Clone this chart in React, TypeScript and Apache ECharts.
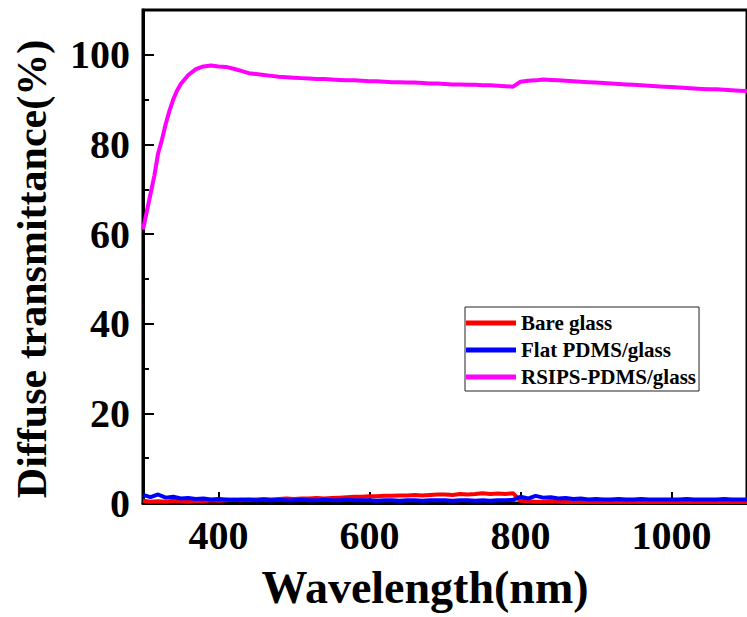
import React, { useEffect, useRef } from "react";
import * as echarts from "echarts";

const seriesNames = ["Bare glass", "Flat PDMS/glass", "RSIPS-PDMS/glass"];
const seriesColors = ["#ff0000", "#0000ff", "#ff00ff"];

const xTickValues = [400, 600, 800, 1000];
const yTickValues = [0, 20, 40, 60, 80, 100];
const yMinorTickValues = [10, 30, 50, 70, 90];

const wavelengths = [
  300, 310, 320, 330, 340, 350, 360, 370, 380, 390,
  400, 410, 420, 430, 440, 450, 460, 470, 480, 490,
  500, 510, 520, 530, 540, 550, 560, 570, 580, 590,
  600, 610, 620, 630, 640, 650, 660, 670, 680, 690,
  700, 710, 720, 730, 740, 750, 760, 770, 780, 790,
  800, 810, 820, 830, 840, 850, 860, 870, 880, 890,
  900, 910, 920, 930, 940, 950, 960, 970, 980, 990,
  1000, 1010, 1020, 1030, 1040, 1050, 1060, 1070, 1080, 1090,
  1100,
];

const bareGlass = [
  0.5, 0.3, 0.4, 0.3, 0.5, 0.4, 0.3, 0.5, 0.4, 0.6,
  0.5, 0.6, 0.7, 0.6, 0.8, 0.8, 0.9, 0.8, 0.9, 1.0,
  0.9, 1.0, 1.0, 1.1, 1.0, 1.1, 1.2, 1.3, 1.4, 1.4,
  1.5, 1.5, 1.6, 1.6, 1.7, 1.7, 1.8, 1.7, 1.8, 1.9,
  1.9, 1.8, 2.0, 1.9, 2.0, 2.2, 2.0, 2.1, 2.0, 2.2,
  0.5, 0.4, 0.3, 0.3, 0.4, 0.3, 0.2, 0.3, 0.2, 0.3,
  0.2, 0.3, 0.2, 0.2, 0.3, 0.2, 0.2, 0.3, 0.2, 0.2,
  0.2, 0.3, 0.2, 0.2, 0.2, 0.3, 0.2, 0.2, 0.3, 0.2,
  0.2,
];

const flatPdms = [
  1.8, 1.3, 1.9, 1.2, 1.4, 1.0, 1.1, 0.9, 1.0, 0.8,
  0.9, 0.8, 0.7, 0.8, 0.7, 0.6, 0.7, 0.6, 0.7, 0.6,
  0.6, 0.7, 0.6, 0.6, 0.7, 0.6, 0.6, 0.7, 0.6, 0.6,
  0.6, 0.5, 0.6, 0.6, 0.5, 0.6, 0.6, 0.5, 0.6, 0.6,
  0.6, 0.5, 0.6, 0.6, 0.5, 0.6, 0.5, 0.6, 0.6, 0.7,
  1.4, 1.0, 1.6, 1.2, 1.3, 1.0, 1.1, 0.9, 1.0, 0.8,
  0.9, 0.8, 0.8, 0.9, 0.8, 0.8, 0.9, 0.8, 0.8, 0.8,
  0.8, 0.8, 0.9, 0.8, 0.8, 0.8, 0.8, 0.9, 0.8, 0.8,
  0.8,
];

const rsipsWavelengths = [
  300, 305, 310, 315, 320, 325, 330, 335, 340, 345, 350, 360, 370, 380, 390,
  400, 410, 420, 430, 440, 450, 460, 470, 480, 490,
  500, 510, 520, 530, 540, 550, 560, 570, 580, 590,
  600, 610, 620, 630, 640, 650, 660, 670, 680, 690,
  700, 710, 720, 730, 740, 750, 760, 770, 780, 790,
  800, 810, 820, 830, 840, 850, 860, 870, 880, 890,
  900, 910, 920, 930, 940, 950, 960, 970, 980, 990,
  1000, 1010, 1020, 1030, 1040, 1050, 1060, 1070, 1080, 1090,
  1100,
];

const rsipsPdms = [
  61, 65, 69, 73, 78, 81, 84.5, 87.5, 90, 92, 93.5, 95.5, 96.8, 97.4, 97.6,
  97.4, 97.3, 96.9, 96.4, 95.9, 95.7, 95.5, 95.3, 95.1, 95.0,
  94.9, 94.8, 94.7, 94.6, 94.6, 94.5, 94.4, 94.3, 94.3, 94.2,
  94.1, 94.1, 94.0, 93.9, 93.9, 93.8, 93.8, 93.7, 93.6, 93.6,
  93.5, 93.4, 93.4, 93.3, 93.3, 93.2, 93.2, 93.1, 93.0, 92.9,
  94.0, 94.2, 94.3, 94.5, 94.4, 94.3, 94.2, 94.1, 94.0, 93.9,
  93.8, 93.7, 93.6, 93.5, 93.4, 93.3, 93.2, 93.1, 93.0, 92.9,
  92.8, 92.7, 92.6, 92.5, 92.4, 92.3, 92.3, 92.2, 92.1, 92.0,
  91.9,
];

const xTitle = "Wavelength(nm)";
const yTitle = "Diffuse transmittance(%)";

const FONT = "'Liberation Serif', 'Times New Roman', serif";

function pairs(xs: number[], ys: number[]) {
  return xs.map((x, i) => [x, ys[i]]);
}

export default function App() {
  const ref = useRef<HTMLDivElement>(null);
  useEffect(() => {
    if (!ref.current) return;
    const chart = echarts.init(ref.current, null, { renderer: "svg" });
    const dataSets = [
      pairs(wavelengths, bareGlass),
      pairs(wavelengths, flatPdms),
      pairs(rsipsWavelengths, rsipsPdms),
    ];
    chart.setOption({
      animation: false,
      backgroundColor: "#ffffff",
      grid: {
        left: 143,
        top: 10,
        bottom: 114,
        right: -9,
        show: true,
        borderColor: "#000",
        borderWidth: 3,
      },
      legend: {
        data: seriesNames,
        orient: "vertical",
        left: 465,
        top: 307,
        icon: "rect",
        itemWidth: 50,
        itemHeight: 5,
        itemGap: 5,
        padding: [5, 3, 3, 1],
        borderColor: "#222",
        borderWidth: 1,
        textStyle: {
          fontFamily: FONT,
          fontWeight: "bold",
          fontSize: 21,
          color: "#000",
          lineHeight: 22,
        },
      },
      xAxis: [
        {
          type: "value",
          min: 300,
          max: 1100,
          splitLine: { show: false },
          axisLine: { lineStyle: { color: "#000", width: 3 } },
          axisTick: {
            inside: true,
            length: 11,
            customValues: xTickValues,
            lineStyle: { color: "#000", width: 2 },
          },
          axisLabel: {
            customValues: xTickValues,
            formatter: (v: number) => String(v),
            fontFamily: FONT,
            fontWeight: "bold",
            fontSize: 40,
            color: "#000",
            margin: 12,
          },
        },
      ],
      yAxis: [
        {
          type: "value",
          min: 0,
          max: 110,
          interval: 20,
          splitLine: { show: false },
          axisLine: { lineStyle: { color: "#000", width: 3 } },
          axisTick: {
            inside: true,
            length: 11,
            customValues: yTickValues,
            lineStyle: { color: "#000", width: 2 },
          },
          axisLabel: {
            customValues: yTickValues,
            formatter: (v: number) => String(v),
            fontFamily: FONT,
            fontWeight: "bold",
            fontSize: 40,
            color: "#000",
            margin: 13,
          },
        },
        {
          type: "value",
          min: 0,
          max: 110,
          position: "left",
          splitLine: { show: false },
          axisLine: { show: false },
          axisLabel: { show: false },
          axisTick: {
            inside: true,
            length: 6,
            customValues: yMinorTickValues,
            lineStyle: { color: "#000", width: 2 },
          },
        },
      ],
      series: seriesNames.map((name, i) => ({
        name,
        type: "line",
        data: dataSets[i],
        showSymbol: false,
        symbol: "none",
        color: seriesColors[i],
        lineStyle: { color: seriesColors[i], width: 4 },
        z: 2 + i,
      })),
      graphic: [
        {
          type: "text",
          x: 425,
          y: 587,
          style: {
            text: xTitle,
            fontFamily: FONT,
            fontWeight: "bold",
            fontSize: 46,
            fill: "#000",
            align: "center",
            verticalAlign: "middle",
          },
        },
        {
          type: "text",
          x: 32,
          y: 269,
          rotation: Math.PI / 2,
          style: {
            text: yTitle,
            fontFamily: FONT,
            fontWeight: "bold",
            fontSize: 42,
            fill: "#000",
            align: "center",
            verticalAlign: "middle",
          },
        },
      ],
    });
    return () => chart.dispose();
  }, []);
  return (
    <div
      ref={ref}
      style={{ position: "absolute", left: 0, top: 0, width: 747, height: 617 }}
    />
  );
}
